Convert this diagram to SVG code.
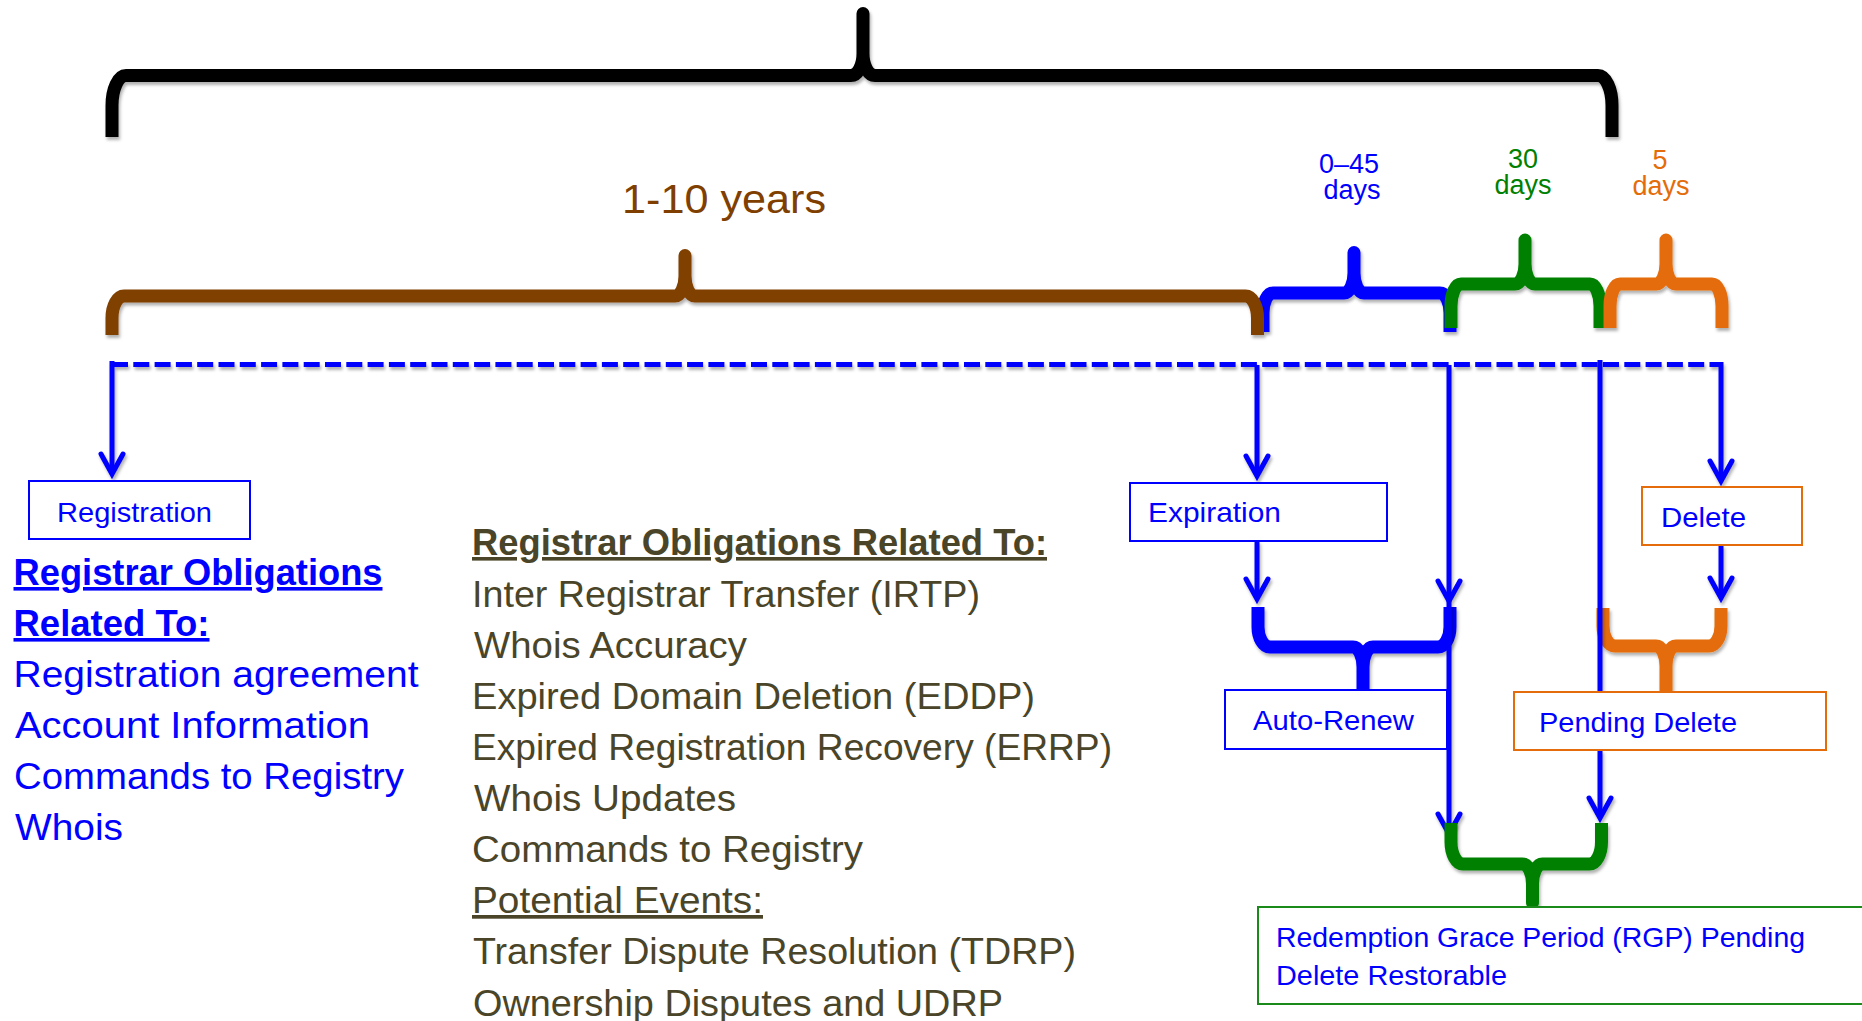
<svg xmlns="http://www.w3.org/2000/svg" width="1862" height="1021" viewBox="0 0 1862 1021">
  <defs>
    <style>
      text { font-family: "Liberation Sans", Arial, sans-serif; }
      .box { fill: #ffffff; stroke-width: 2; }
      .b-blue { stroke: #0000ff; }
      .b-orange { stroke: #e46c0a; }
      .b-green { stroke: #1a8a1a; }
      .lbl { font-size: 28px; fill: #0000ff; }
      .conn { fill: none; stroke: #0000ff; stroke-width: 5; }
      .dash { stroke-dasharray: 16 5.3; }
      .brace { fill: none; stroke-width: 13; stroke-linejoin: round; stroke-linecap: butt; }
      .blk { font-size: 37px; }
      .hdr { font-size: 36px; font-weight: bold; text-decoration: underline; }
      .blue-txt { fill: #0000ff; }
      .dark-txt { fill: #4a4529; }
      .days { font-size: 27px; text-anchor: middle; }
    </style>
    <filter id="shadow" filterUnits="userSpaceOnUse" x="0" y="0" width="1862" height="1021">
      <feDropShadow dx="1.5" dy="3" stdDeviation="1.6" flood-color="#000000" flood-opacity="0.3"/>
    </filter>
    <marker id="arrow" markerUnits="userSpaceOnUse" viewBox="-26 -15 30 30" markerWidth="30" markerHeight="30" refX="0" refY="0" orient="auto" overflow="visible">
      <path d="M-20,-11 L0,0 L-20,11" fill="none" stroke="#0000ff" stroke-width="5" stroke-linejoin="miter" stroke-linecap="round"/>
    </marker>
  </defs>

  <rect width="1862" height="1021" fill="#ffffff"/>

  <!-- timeline braces -->
  <g id="braces-timeline" filter="url(#shadow)">
    <path id="brace-total" class="brace" stroke="#000000" stroke-width="12.5" d="M112,137 L112,105.5 C112,89 118.3,75.5 126,75.5 L851,75.5 C857.6,75.5 863,65.6 863,53.5 L863,13.5 L863,53.5 C863,65.6 868.4,75.5 875,75.5 L1598,75.5 C1605.7,75.5 1612,89 1612,105.5 L1612,137"/>
    <path id="brace-autorenew-period" class="brace" stroke="#0000ff" d="M1263,332 L1263,313 C1263,302 1267.5,293 1273,293 L1344,293 C1349.5,293 1354,284 1354,273 L1354,252.5 L1354,273 C1354,284 1358.5,293 1364,293 L1440,293 C1445.5,293 1450,302 1450,313 L1450,332"/>
    <path id="brace-years" class="brace" stroke="#7f3f00" d="M112,335 L112,318 C112,305.9 117.4,296 124,296 L675,296 C680.5,296 685,287 685,276 L685,255.5 L685,276 C685,287 689.5,296 695,296 L1245.5,296 C1252.1,296 1257.5,305.9 1257.5,318 L1257.5,335"/>
    <path id="brace-rgp-period" class="brace" stroke="#008000" d="M1451,328 L1451,306 C1451,294.1 1455.5,284 1461,284 L1515,284 C1520.5,284 1525,275 1525,264 L1525,240 L1525,264 C1525,275 1529.5,284 1535,284 L1590,284 C1595.5,284 1600,294.1 1600,306 L1600,328"/>
    <path id="brace-pending-period" class="brace" stroke="#e46c0a" d="M1610,328 L1610,306 C1610,294.1 1614.5,284 1620,284 L1656,284 C1661.5,284 1666,275 1666,264 L1666,240 L1666,264 C1666,275 1670.5,284 1676,284 L1712,284 C1717.5,284 1722,294.1 1722,306 L1722,328"/>
  </g>

  <!-- period labels -->
  <g id="period-labels">
    <text x="622" y="213" font-size="40" fill="#7f3f00" textLength="204" lengthAdjust="spacingAndGlyphs">1-10 years</text>
    <text class="days" fill="#0000ff"><tspan x="1349" y="173">0–45</tspan><tspan x="1352" y="199">days</tspan></text>
    <text class="days" fill="#008000"><tspan x="1523" y="168">30</tspan><tspan x="1523" y="194">days</tspan></text>
    <text class="days" fill="#e46c0a"><tspan x="1660" y="169">5</tspan><tspan x="1661" y="195">days</tspan></text>
  </g>

  <!-- merging braces (drawn beneath the connectors) -->
  <g id="brace-autorenew" filter="url(#shadow)">
    <path class="brace" stroke="#0000ff" d="M1258,607 L1258,627 C1258,638 1263.4,647 1270,647 L1353,647 C1358.5,647 1363,656 1363,667 L1363,694 L1363,667 C1363,656 1367.5,647 1373,647 L1438,647 C1444.6,647 1450,638 1450,627 L1450,607"/>
  </g>
  <g id="brace-pending" filter="url(#shadow)">
    <path class="brace" stroke="#e46c0a" d="M1603,608 L1603,626 C1603,637 1608.4,646 1615,646 L1656,646 C1661.5,646 1666,655 1666,666 L1666,696 L1666,666 C1666,655 1670.5,646 1676,646 L1709,646 C1715.6,646 1721,637 1721,626 L1721,608"/>
  </g>

  <!-- connectors -->
  <g id="connectors" filter="url(#shadow)">
    <path class="conn dash" d="M112,364.5 H1721"/>
    <path class="conn" d="M112,361 V474" marker-end="url(#arrow)"/>
    <path class="conn" d="M1257,365 V476" marker-end="url(#arrow)"/>
    <path class="conn" d="M1449,365 V601" marker-end="url(#arrow)"/>
    <path class="conn" d="M1449,601 V834" marker-end="url(#arrow)"/>
    <path class="conn" d="M1600,360 V692"/>
    <path class="conn" d="M1600,750 V818" marker-end="url(#arrow)"/>
    <path class="conn" d="M1721,362 V481" marker-end="url(#arrow)"/>
    <path class="conn" d="M1257,541 V599" marker-end="url(#arrow)"/>
    <path class="conn" d="M1721,545 V598" marker-end="url(#arrow)"/>
  </g>

  <g id="brace-rgp" filter="url(#shadow)">
    <path class="brace" stroke="#008000" d="M1451,823 L1451,842 C1451,854.1 1456.4,864 1463,864 L1522.5,864 C1528,864 1532.5,873 1532.5,884 L1532.5,903 L1532.5,884 C1532.5,873 1537,864 1542.5,864 L1589.5,864 C1596.1,864 1601.5,854.1 1601.5,842 L1601.5,823"/>
  </g>

  <!-- state boxes -->
  <g id="node-registration">
    <rect class="box b-blue" x="29" y="481" width="221" height="58"/>
    <text class="lbl" x="57" y="522" textLength="155" lengthAdjust="spacingAndGlyphs">Registration</text>
  </g>
  <g id="node-expiration">
    <rect class="box b-blue" x="1130" y="483" width="257" height="58"/>
    <text class="lbl" x="1148" y="522" textLength="133" lengthAdjust="spacingAndGlyphs">Expiration</text>
  </g>
  <g id="node-delete">
    <rect class="box b-orange" x="1642" y="487" width="160" height="58"/>
    <text class="lbl" x="1661" y="527" textLength="85" lengthAdjust="spacingAndGlyphs">Delete</text>
  </g>
  <g id="node-autorenew">
    <rect class="box b-blue" x="1225" y="690" width="222" height="59"/>
    <text class="lbl" x="1253" y="730" textLength="161" lengthAdjust="spacingAndGlyphs">Auto-Renew</text>
  </g>
  <g id="node-pending-delete">
    <rect class="box b-orange" x="1514" y="692" width="312" height="58"/>
    <text class="lbl" x="1539" y="732" textLength="198" lengthAdjust="spacingAndGlyphs">Pending Delete</text>
  </g>
  <g id="node-rgp">
    <rect class="box b-green" x="1258" y="907" width="620" height="97"/>
    <text class="lbl" x="1276" y="947" textLength="529" lengthAdjust="spacingAndGlyphs">Redemption Grace Period (RGP) Pending</text>
    <text class="lbl" x="1276" y="985" textLength="231" lengthAdjust="spacingAndGlyphs">Delete Restorable</text>
  </g>

  <!-- registration obligations -->
  <g id="notes-registration" class="blue-txt">
    <text class="hdr" x="13.5" y="585" textLength="369" lengthAdjust="spacingAndGlyphs">Registrar Obligations</text>
    <text class="hdr" x="13.5" y="636" textLength="196" lengthAdjust="spacingAndGlyphs">Related To:</text>
    <text class="blk" x="13.5" y="687" textLength="405" lengthAdjust="spacingAndGlyphs">Registration agreement</text>
    <text class="blk" x="15" y="738" textLength="355" lengthAdjust="spacingAndGlyphs">Account Information</text>
    <text class="blk" x="14" y="789" textLength="390" lengthAdjust="spacingAndGlyphs">Commands to Registry</text>
    <text class="blk" x="15" y="840" textLength="108" lengthAdjust="spacingAndGlyphs">Whois</text>
  </g>

  <!-- lifecycle obligations and events -->
  <g id="notes-lifecycle" class="dark-txt">
    <text class="hdr" x="472" y="555" textLength="575" lengthAdjust="spacingAndGlyphs">Registrar Obligations Related To:</text>
    <text class="blk" x="472" y="607" textLength="508" lengthAdjust="spacingAndGlyphs">Inter Registrar Transfer (IRTP)</text>
    <text class="blk" x="474" y="658" textLength="273" lengthAdjust="spacingAndGlyphs">Whois Accuracy</text>
    <text class="blk" x="472" y="709" textLength="563" lengthAdjust="spacingAndGlyphs">Expired Domain Deletion (EDDP)</text>
    <text class="blk" x="472" y="760" textLength="640" lengthAdjust="spacingAndGlyphs">Expired Registration Recovery (ERRP)</text>
    <text class="blk" x="474" y="811" textLength="262" lengthAdjust="spacingAndGlyphs">Whois Updates</text>
    <text class="blk" x="472" y="862" textLength="391" lengthAdjust="spacingAndGlyphs">Commands to Registry</text>
    <text class="blk" x="472" y="913" textLength="291" lengthAdjust="spacingAndGlyphs" text-decoration="underline">Potential Events:</text>
    <text class="blk" x="473" y="964" textLength="603" lengthAdjust="spacingAndGlyphs">Transfer Dispute Resolution (TDRP)</text>
    <text class="blk" x="473" y="1016" textLength="530" lengthAdjust="spacingAndGlyphs">Ownership Disputes and UDRP</text>
  </g>
</svg>
